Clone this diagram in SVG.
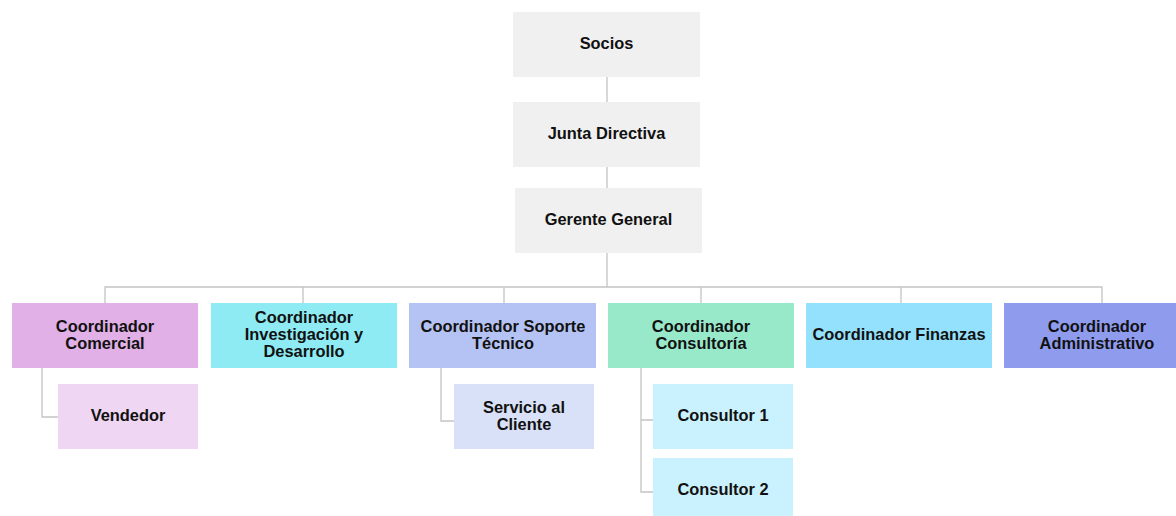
<svg xmlns="http://www.w3.org/2000/svg" width="1176" height="516" viewBox="0 0 1176 516">
  <style>
    .lbl { font-family: "Liberation Sans", Arial, sans-serif; font-weight: bold; font-size: 16.4px; fill: #111; text-anchor: middle; }
    .link { fill: none; stroke: #c4c4c4; stroke-width: 1.3; }
    .top { fill: #f0f0f0; }
  </style>
  <rect width="1176" height="516" fill="#ffffff"/>

  <g id="connectors">
    <path class="link" d="M607 77 V102 M607 167 V188 M607 253 V287"/>
    <path class="link" d="M105 303 V287 H1102 V303 M303 287 V303 M504 287 V303 M701 287 V303 M901 287 V303"/>
    <path class="link" d="M42 368 V417 H58"/>
    <path class="link" d="M441 368 V421 H454"/>
    <path class="link" d="M641 368 V492 H653 M641 420 H653"/>
  </g>

  <g id="socios">
    <rect class="top" x="513" y="12" width="187" height="65"/>
    <text class="lbl" x="606.5" y="49">Socios</text>
  </g>
  <g id="junta">
    <rect class="top" x="513" y="102" width="187" height="65"/>
    <text class="lbl" x="606.5" y="139">Junta Directiva</text>
  </g>
  <g id="gerente">
    <rect class="top" x="515" y="188" width="187" height="65"/>
    <text class="lbl" x="608.5" y="225">Gerente General</text>
  </g>

  <g id="comercial">
    <rect x="12" y="303" width="186" height="65" fill="#e0b0e6"/>
    <text class="lbl" x="105" y="331.5">Coordinador</text>
    <text class="lbl" x="105" y="348.5">Comercial</text>
  </g>
  <g id="investigacion">
    <rect x="211" y="303" width="186" height="65" fill="#8eebf4"/>
    <text class="lbl" x="304" y="323">Coordinador</text>
    <text class="lbl" x="304" y="340">Investigación y</text>
    <text class="lbl" x="304" y="357">Desarrollo</text>
  </g>
  <g id="soporte">
    <rect x="409" y="303" width="187" height="65" fill="#b5c3f4"/>
    <text class="lbl" x="503" y="331.5">Coordinador Soporte</text>
    <text class="lbl" x="503" y="348.5">Técnico</text>
  </g>
  <g id="consultoria">
    <rect x="608" y="303" width="186" height="65" fill="#98e9ca"/>
    <text class="lbl" x="701" y="331.5">Coordinador</text>
    <text class="lbl" x="701" y="348.5">Consultoría</text>
  </g>
  <g id="finanzas">
    <rect x="806" y="303" width="186" height="65" fill="#94e1fd"/>
    <text class="lbl" x="899" y="340">Coordinador Finanzas</text>
  </g>
  <g id="administrativo">
    <rect x="1004" y="303" width="173" height="65" fill="#8f9cee"/>
    <text class="lbl" x="1097" y="331.5">Coordinador</text>
    <text class="lbl" x="1097" y="348.5">Administrativo</text>
  </g>

  <g id="vendedor">
    <rect x="58" y="384" width="140" height="65" fill="#efd6f2"/>
    <text class="lbl" x="128" y="421">Vendedor</text>
  </g>
  <g id="servicio">
    <rect x="454" y="384" width="140" height="65" fill="#d9e1f9"/>
    <text class="lbl" x="524" y="412.5">Servicio al</text>
    <text class="lbl" x="524" y="429.5">Cliente</text>
  </g>
  <g id="consultor1">
    <rect x="653" y="384" width="140" height="65" fill="#caf1fe"/>
    <text class="lbl" x="723" y="421">Consultor 1</text>
  </g>
  <g id="consultor2">
    <rect x="653" y="458" width="140" height="58" fill="#caf1fe"/>
    <text class="lbl" x="723" y="495">Consultor 2</text>
  </g>
</svg>
